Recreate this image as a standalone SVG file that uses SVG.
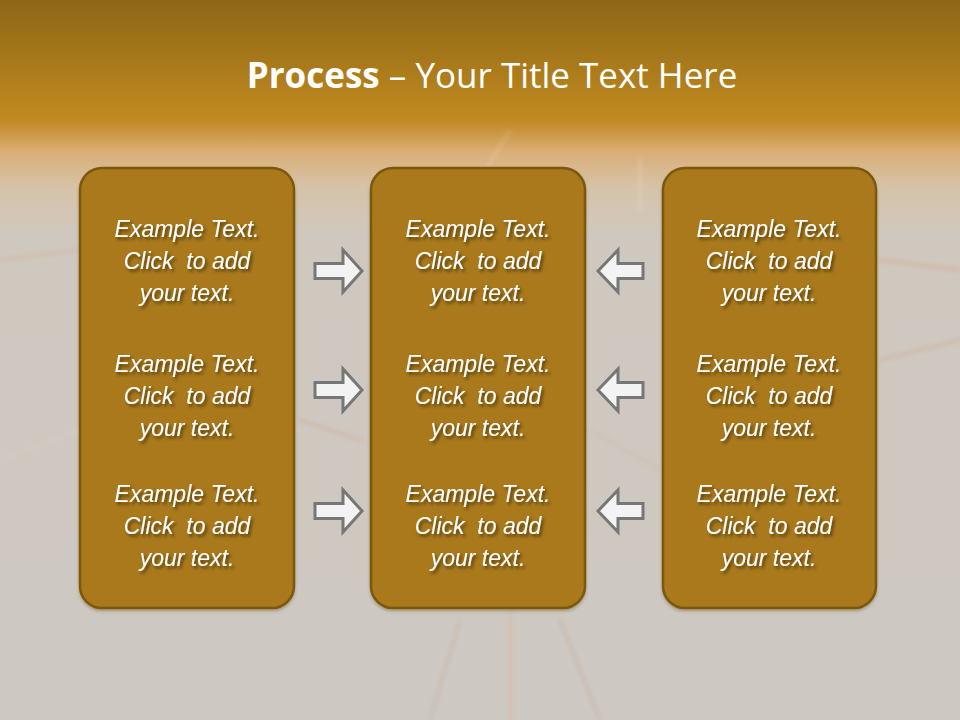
<svg xmlns="http://www.w3.org/2000/svg" width="960" height="720" viewBox="0 0 960 720">
<defs>
<linearGradient id="bg" x1="0" y1="0" x2="0" y2="1">
<stop offset="0" stop-color="#8E6616"/>
<stop offset="0.165" stop-color="#C08A1F"/>
<stop offset="0.18" stop-color="#C8933A"/>
<stop offset="0.21" stop-color="#DAAE76"/>
<stop offset="0.26" stop-color="#D6C3A8"/>
<stop offset="0.33" stop-color="#CFC8BF"/>
<stop offset="1" stop-color="#CDC8C2"/>
</linearGradient>
<filter id="ts" x="-10%" y="-30%" width="130%" height="160%">
<feDropShadow dx="2" dy="2.5" stdDeviation="1.5" flood-color="#3A2600" flood-opacity="0.75"/>
</filter>
<filter id="bs" x="-10%" y="-10%" width="120%" height="120%">
<feDropShadow dx="0" dy="2" stdDeviation="1.5" flood-color="#5A3E00" flood-opacity="0.35"/>
</filter>
<filter id="blur" x="-20%" y="-20%" width="140%" height="140%">
<feGaussianBlur stdDeviation="2"/>
</filter>
<path id="ra" d="M0 -7.5 H28 V-21 L47 0 L28 21 V7.5 H0 Z"/>
<path id="la" d="M0 -7.5 H-25 V-21 L-45 0 L-25 21 V7.5 H0 Z"/>
</defs>
<style>
.box{fill:#A9791B;stroke:#7C5811;stroke-width:2.5}
.t{font-family:"Liberation Sans",Arial,sans-serif;font-style:italic;font-size:23px;fill:#FFFFFF;text-anchor:middle;white-space:pre}
.arr{fill:#F3F3F3;stroke:#777777;stroke-width:3;stroke-linejoin:miter}
.ttl{font-family:"Open Sans","Liberation Sans",sans-serif;font-size:35px;fill:#FFFFFF}
</style>
<rect x="0" y="0" width="960" height="720" fill="url(#bg)"/>
<g opacity="0.18" stroke-linecap="round" filter="url(#blur)">
<line x1="480" y1="180" x2="510" y2="130" stroke="#FFF4E0" stroke-width="3"/>
<line x1="640" y1="160" x2="640" y2="210" stroke="#FFFFFF" stroke-width="3"/>
<line x1="510" y1="610" x2="510" y2="720" stroke="#E8A050" stroke-width="4"/>
<line x1="560" y1="620" x2="600" y2="720" stroke="#B05A20" stroke-width="2"/>
<line x1="460" y1="620" x2="430" y2="720" stroke="#C06A30" stroke-width="2"/>
<line x1="880" y1="260" x2="960" y2="270" stroke="#E07040" stroke-width="4"/>
<line x1="880" y1="360" x2="960" y2="340" stroke="#E07040" stroke-width="3"/>
<line x1="0" y1="260" x2="80" y2="250" stroke="#E08050" stroke-width="3"/>
<line x1="0" y1="460" x2="80" y2="430" stroke="#FFE0C0" stroke-width="2"/>
<line x1="300" y1="420" x2="360" y2="440" stroke="#E07040" stroke-width="3"/>
<line x1="590" y1="430" x2="660" y2="470" stroke="#E08040" stroke-width="2"/>
</g>
<text class="ttl" x="492" y="88" text-anchor="middle"><tspan font-weight="bold">Process</tspan> – Your Title Text Here</text>
<g id="col1">
<rect class="box" x="80" y="168" width="214" height="440" rx="22" filter="url(#bs)"/>
<g filter="url(#ts)">
<text class="t" x="187" y="237">Example Text.</text>
<text class="t" x="187" y="269">Click  to add</text>
<text class="t" x="187" y="301">your text.</text>
<text class="t" x="187" y="372">Example Text.</text>
<text class="t" x="187" y="404">Click  to add</text>
<text class="t" x="187" y="436">your text.</text>
<text class="t" x="187" y="502">Example Text.</text>
<text class="t" x="187" y="534">Click  to add</text>
<text class="t" x="187" y="566">your text.</text>
</g>
</g>
<g id="col2">
<rect class="box" x="371" y="168" width="214" height="440" rx="22" filter="url(#bs)"/>
<g filter="url(#ts)">
<text class="t" x="478" y="237">Example Text.</text>
<text class="t" x="478" y="269">Click  to add</text>
<text class="t" x="478" y="301">your text.</text>
<text class="t" x="478" y="372">Example Text.</text>
<text class="t" x="478" y="404">Click  to add</text>
<text class="t" x="478" y="436">your text.</text>
<text class="t" x="478" y="502">Example Text.</text>
<text class="t" x="478" y="534">Click  to add</text>
<text class="t" x="478" y="566">your text.</text>
</g>
</g>
<g id="col3">
<rect class="box" x="663" y="168" width="213" height="440" rx="22" filter="url(#bs)"/>
<g filter="url(#ts)">
<text class="t" x="769" y="237">Example Text.</text>
<text class="t" x="769" y="269">Click  to add</text>
<text class="t" x="769" y="301">your text.</text>
<text class="t" x="769" y="372">Example Text.</text>
<text class="t" x="769" y="404">Click  to add</text>
<text class="t" x="769" y="436">your text.</text>
<text class="t" x="769" y="502">Example Text.</text>
<text class="t" x="769" y="534">Click  to add</text>
<text class="t" x="769" y="566">your text.</text>
</g>
</g>
<g id="connectors">
<use href="#ra" class="arr" x="315" y="271"/>
<use href="#ra" class="arr" x="315" y="390"/>
<use href="#ra" class="arr" x="315" y="511"/>
<use href="#la" class="arr" x="643" y="271"/>
<use href="#la" class="arr" x="643" y="390"/>
<use href="#la" class="arr" x="643" y="511"/>
</g>
</svg>
